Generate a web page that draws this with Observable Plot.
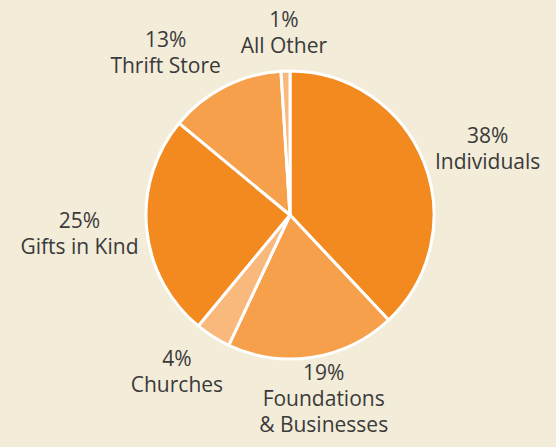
<!DOCTYPE html>
<html><head><meta charset="utf-8">
<script src="https://cdn.jsdelivr.net/npm/d3@7"></script>
<script src="https://cdn.jsdelivr.net/npm/@observablehq/plot@0.6"></script>
<style>html,body{margin:0;padding:0;background:#f3ecd9;}</style>
</head><body><div id="chart"></div>
<script>
// Data (clockwise from 12 o'clock)
const categories = ["Individuals", "Foundations\n& Businesses", "Churches", "Gifts in Kind", "Thrift Store", "All Other"];
const shares = [38, 19, 4, 25, 13, 1];
const shades = ["#f38a20", "#f7a04b", "#f9b87c", "#f38a20", "#f7a04b", "#f9b87c"];

const data = categories.map((c, i) => ({category: c, share: shares[i]}));
const arcs = d3.pie().sort(null).value(d => d.share)(data);
const color = Plot.scale({color: {type: "ordinal", domain: categories, range: shades}});

const R = 144, LX = 212, LY = 184, FS = 21, LH = 1.24;
const labels = arcs.map(a => {
  const m = (a.startAngle + a.endAngle) / 2;
  const lines = [`${a.data.share}%`, ...a.data.category.split("\n")];
  return {
    ...a.data, lines,
    x: Math.sin(m) * LX, y: -Math.cos(m) * LY,
    w: d3.max(lines, l => l.length) * FS * 0.5,
    h: lines.length * FS * LH
  };
});
// simple collision resolution: push the outer label horizontally outward
for (let i = 0; i < labels.length; i++) for (let j = 0; j < labels.length; j++) {
  if (i === j) continue;
  const a = labels[i], b = labels[j];
  if (Math.abs(a.x) <= Math.abs(b.x)) continue;
  const ox = (a.w + b.w) / 2 + 8 - Math.abs(a.x - b.x);
  const oy = (a.h + b.h) / 2 - Math.abs(a.y - b.y);
  if (ox > 0 && oy > 0) a.x += Math.sign(a.x - b.x || a.x) * ox;
}

const chart = Plot.plot({
  width: 556, height: 447, margin: 0,
  x: {domain: [-290, 266], range: [0, 556], axis: null},
  y: {domain: [-215, 232], range: [0, 447], axis: null},
  style: {background: "#f3ecd9", fontFamily: "'Open Sans', sans-serif"},
  marks: [
    (index, {x, y}) => {
      const cx = x(0), cy = y(0), r = x(R) - x(0);
      const arc = d3.arc().innerRadius(0).outerRadius(r);
      const g = d3.create("svg:g").attr("transform", `translate(${cx},${cy})`);
      g.selectAll("path").data(arcs).join("path")
        .attr("d", arc)
        .attr("fill", d => color.apply(d.data.category))
        .attr("stroke", "white").attr("stroke-width", 3).attr("stroke-linejoin", "round");
      return g.node();
    },
    Plot.text(labels, {
      x: "x", y: "y", text: d => d.lines.join("\n"),
      fontSize: FS, lineHeight: LH, fill: "#3a3a3a"
    })
  ]
});
document.getElementById("chart").appendChild(chart);
</script>
</body></html>
